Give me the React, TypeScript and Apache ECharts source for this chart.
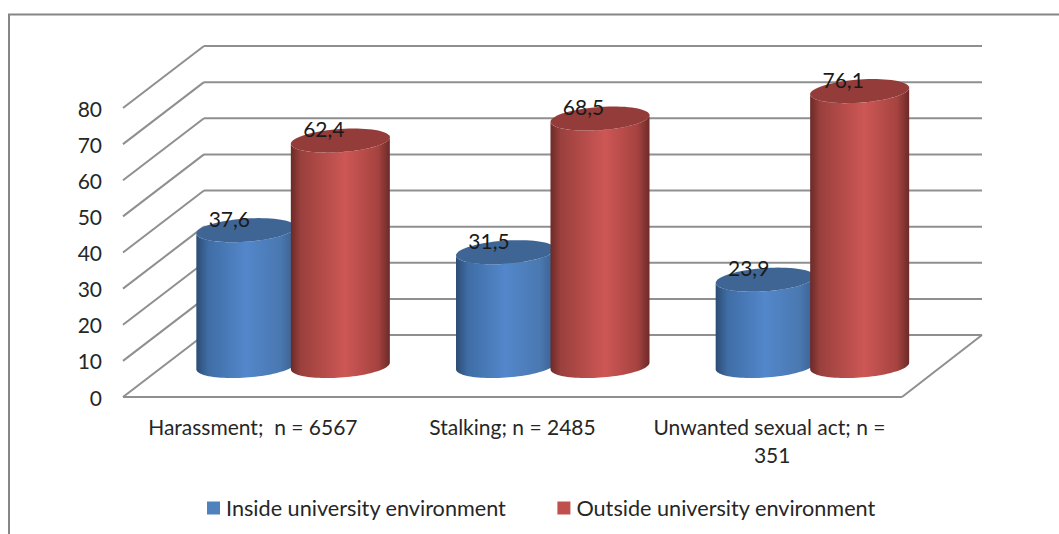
import React, { useEffect, useRef } from "react";
import * as echarts from "echarts";

const categories = ["Harassment;  n = 6567", "Stalking; n = 2485", "Unwanted sexual act; n = 351"];
const insideValues = [37.6, 31.5, 23.9];
const outsideValues = [62.4, 68.5, 76.1];
const wallTicks = [0, 10, 20, 30, 40, 50, 60, 70, 80];
const FONT = "Lato, Carlito, sans-serif";
const DEPTH_X = 81;
const DEPTH_Y = -62;
const RX = 49.5;
const RY = 11.6;
const SHEAR = 3.3;
const GRID = "#8f8f8f";

function ellipsePts(cx: number, cy: number, from: number, to: number, n = 48) {
  const pts: number[][] = [];
  for (let i = 0; i <= n; i++) {
    const t = from + ((to - from) * i) / n;
    pts.push([cx + RX * Math.cos(t), cy + RY * Math.sin(t) - SHEAR * Math.cos(t)]);
  }
  return pts;
}

function grad(stops: [number, string][]) {
  return new echarts.graphic.LinearGradient(0, 0, 1, 0, stops.map(([offset, color]) => ({ offset, color })));
}

function cylinderSeries(name: string, values: number[], dx: number, main: string, top: string, body: [number, string][]) {
  return {
    name,
    type: "custom",
    coordinateSystem: "cartesian2d",
    clip: false,
    z: 3,
    itemStyle: { color: main },
    encode: { x: 0, y: 1 },
    data: values.map((v, i) => [i, v]),
    renderItem: (_p: any, api: any) => {
      const cat = api.value(0);
      const val = api.value(1);
      const t = api.coord([cat, val]);
      const b = api.coord([cat, 0]);
      const cx = t[0] + dx;
      const yTop = t[1] + DEPTH_Y / 2;
      const yBase = b[1] + DEPTH_Y / 2;
      const outline = [
        [cx - RX, yTop + SHEAR],
        ...ellipsePts(cx, yBase, Math.PI, 0),
        [cx + RX, yTop - SHEAR],
        ...ellipsePts(cx, yTop, 0, Math.PI),
      ];
      return {
        type: "group",
        children: [
          { type: "polygon", shape: { points: outline }, style: { fill: grad(body) } },
          { type: "polygon", shape: { points: ellipsePts(cx, yTop, 0, 2 * Math.PI, 72) }, style: { fill: top } },
          {
            type: "text",
            z2: 10,
            style: {
              text: String(val).replace(".", ","),
              x: cx - 16.5,
              y: yTop - 12,
              fill: "#1a1a1a",
              font: `21px ${FONT}`,
              align: "center",
              verticalAlign: "middle",
            },
          },
        ],
      };
    },
  };
}

export default function App() {
  const ref = useRef<HTMLDivElement>(null);
  useEffect(() => {
    document.body.style.margin = "0";
    const chart = echarts.init(ref.current!, undefined, { renderer: "svg" });
    const line = (x1: number, y1: number, x2: number, y2: number) => ({
      type: "line",
      shape: { x1, y1, x2, y2 },
      style: { stroke: GRID, lineWidth: 2 },
    });
    chart.setOption({
      animation: false,
      backgroundColor: "#ffffff",
      graphic: [
        {
          type: "polyline",
          silent: true,
          shape: { points: [[9, 534], [9, 14.5], [1059, 14.5]] },
          style: { stroke: "#868686", lineWidth: 2, fill: "none" },
        },
      ],
      grid: { left: 123, top: 108, width: 779, height: 289, containLabel: false },
      xAxis: {
        type: "category",
        data: categories,
        axisTick: { show: false },
        axisLine: { show: false },
        axisLabel: {
          interval: 0,
          margin: 15,
          width: 250,
          overflow: "break",
          lineHeight: 28,
          fontFamily: FONT,
          fontSize: 21,
          color: "#262626",
        },
      },
      yAxis: {
        type: "value",
        min: 0,
        max: 80,
        interval: 10,
        splitLine: { show: false },
        axisLine: { show: false },
        axisTick: { show: false },
        axisLabel: { margin: 21, fontFamily: FONT, fontSize: 21, color: "#262626", padding: [0, 0, 2, 0] },
      },
      legend: {
        left: 202,
        top: 492,
        itemWidth: 13,
        itemHeight: 13,
        itemGap: 51,
        icon: "rect",
        textStyle: { fontFamily: FONT, fontSize: 21.65, color: "#262626", padding: [0, 0, 0, 1] },
        data: ["Inside university environment", "Outside university environment"],
      },
      series: [
        {
          type: "custom",
          coordinateSystem: "cartesian2d",
          clip: false,
          silent: true,
          z: 1,
          encode: { y: 0 },
          data: wallTicks.map((v) => [0, v]),
          renderItem: (p: any, api: any) => {
            const val = api.value(1);
            const y = api.coord([0, val])[1];
            const x0 = p.coordSys.x;
            const x1 = x0 + p.coordSys.width;
            const children = [
              line(x0, y, x0 + DEPTH_X, y + DEPTH_Y),
              line(x0 + DEPTH_X, y + DEPTH_Y, x1 + DEPTH_X - 1, y + DEPTH_Y),
            ];
            if (val === 0) {
              children.push(line(x0, y, x1, y));
              children.push(line(x1, y, x1 + DEPTH_X - 1, y + DEPTH_Y));
            }
            return { type: "group", children };
          },
        },
        cylinderSeries("Inside university environment", insideValues, -7, "#4f81bd", "#3f6595", [
          [0, "#2c4c74"],
          [0.12, "#3f6da5"],
          [0.5, "#5387cb"],
          [0.85, "#4a78b0"],
          [1, "#395f8f"],
        ]),
        cylinderSeries("Outside university environment", outsideValues, 87.5, "#c0504d", "#933c39", [
          [0, "#6b2a28"],
          [0.1, "#9a403d"],
          [0.55, "#cd5755"],
          [0.88, "#a54340"],
          [1, "#6b2a28"],
        ]),
      ],
    });
    return () => chart.dispose();
  }, []);
  return <div ref={ref} style={{ width: 1059, height: 534 }} />;
}
